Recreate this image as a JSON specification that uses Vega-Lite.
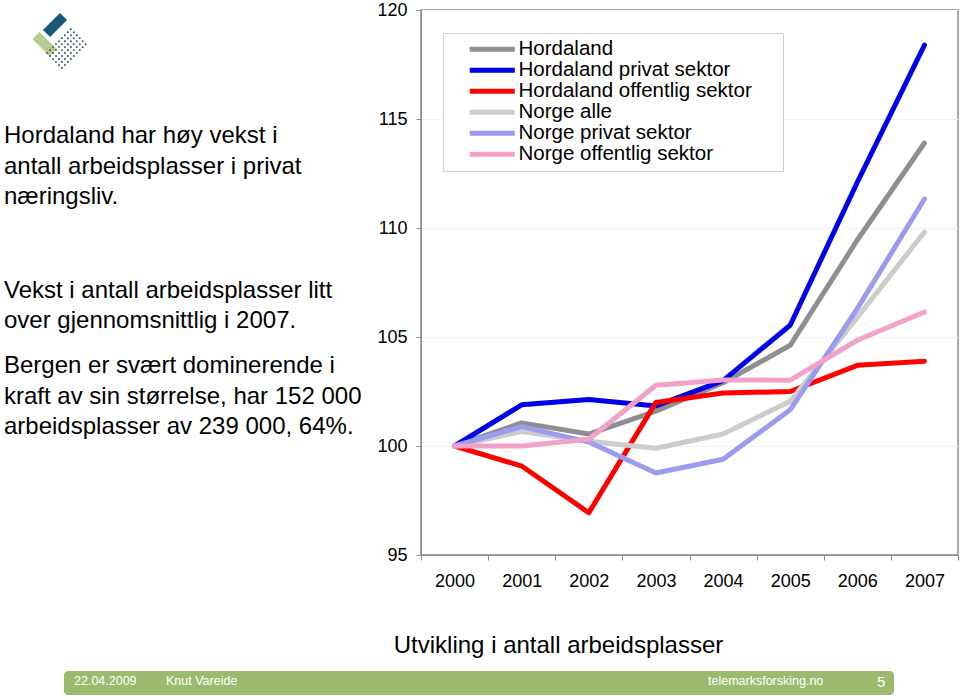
{
  "$schema": "https://vega.github.io/schema/vega-lite/v6.json",
  "padding": 0,
  "background": "white",
  "config": {"font": "Liberation Sans"},
  "spacing": 13,
  "vconcat": [
    {
      "spacing": 0,
      "hconcat": [
        {
          "width": 376,
          "height": 545,
          "view": {"stroke": null},
          "data": {
            "values": [
              {"kind": "text", "px": 4, "py": 133, "text": "Hordaland har høy vekst i"},
              {"kind": "text", "px": 4, "py": 163.5, "text": "antall arbeidsplasser i privat"},
              {"kind": "text", "px": 4, "py": 194, "text": "næringsliv."},
              {"kind": "text", "px": 4, "py": 288, "text": "Vekst i antall arbeidsplasser litt"},
              {"kind": "text", "px": 4, "py": 318, "text": "over gjennomsnittlig i 2007."},
              {"kind": "text", "px": 4, "py": 363, "text": "Bergen er svært dominerende i"},
              {"kind": "text", "px": 4, "py": 393.5, "text": "kraft av sin størrelse, har 152 000"},
              {"kind": "text", "px": 4, "py": 424, "text": "arbeidsplasser av 239 000, 64%."},
              {"kind": "teal", "px": 55, "py": 15, "text": ""},
              {"kind": "green", "px": 44.5, "py": 34, "text": ""},
              {"kind": "dots", "px": 67, "py": 38, "text": ""}
            ]
          },
          "encoding": {
            "x": {"field": "px", "type": "quantitative", "scale": {"domain": [0, 376], "nice": false, "zero": false}, "axis": null},
            "y": {"field": "py", "type": "quantitative", "scale": {"domain": [0, 545], "nice": false, "zero": false, "reverse": true}, "axis": null}
          },
          "layer": [
            {
              "transform": [{"filter": "datum.kind === 'text'"}],
              "mark": {"type": "text", "align": "left", "baseline": "alphabetic", "fontSize": 24, "color": "black"},
              "encoding": {"text": {"field": "text"}}
            },
            {
              "transform": [{"filter": "datum.kind === 'teal'"}],
              "mark": {"type": "point", "shape": "M-1,-0.42L1,-0.42L1,0.42L-1,0.42Z", "filled": true, "color": "#175A78", "opacity": 1, "size": 576, "angle": -45}
            },
            {
              "transform": [{"filter": "datum.kind === 'green'"}],
              "mark": {"type": "point", "shape": "M-1,-0.42L1,-0.42L1,0.42L-1,0.42Z", "filled": true, "color": "#B7CB92", "opacity": 1, "size": 576, "angle": 45}
            },
            {
              "transform": [{"filter": "datum.kind === 'dots'"}],
              "mark": {"type": "point", "shape": "M-1,-0.57L1,-0.57M-1,-0.34L1,-0.34M-1,-0.11L1,-0.11M-1,0.11L1,0.11M-1,0.34L1,0.34M-1,0.57L1,0.57", "filled": false, "stroke": "#34505F", "strokeWidth": 1.7, "strokeDash": [1.7, 2.5], "size": 1369, "angle": -45, "opacity": 1}
            }
          ]
        },
        {
          "width": 537,
          "height": 545,
          "view": {"stroke": "#8c8c8c", "strokeWidth": 1.5},
          "data": {
            "values": [
              {"series": "Hordaland", "year": "2000", "value": 100},
              {"series": "Hordaland", "year": "2001", "value": 101.06},
              {"series": "Hordaland", "year": "2002", "value": 100.55},
              {"series": "Hordaland", "year": "2003", "value": 101.6},
              {"series": "Hordaland", "year": "2004", "value": 102.9},
              {"series": "Hordaland", "year": "2005", "value": 104.62},
              {"series": "Hordaland", "year": "2006", "value": 109.45},
              {"series": "Hordaland", "year": "2007", "value": 113.9},
              {"series": "Hordaland privat sektor", "year": "2000", "value": 100},
              {"series": "Hordaland privat sektor", "year": "2001", "value": 101.89},
              {"series": "Hordaland privat sektor", "year": "2002", "value": 102.13},
              {"series": "Hordaland privat sektor", "year": "2003", "value": 101.84},
              {"series": "Hordaland privat sektor", "year": "2004", "value": 103.0},
              {"series": "Hordaland privat sektor", "year": "2005", "value": 105.54},
              {"series": "Hordaland privat sektor", "year": "2006", "value": 112.1},
              {"series": "Hordaland privat sektor", "year": "2007", "value": 118.39},
              {"series": "Hordaland offentlig sektor", "year": "2000", "value": 100},
              {"series": "Hordaland offentlig sektor", "year": "2001", "value": 99.08},
              {"series": "Hordaland offentlig sektor", "year": "2002", "value": 96.94},
              {"series": "Hordaland offentlig sektor", "year": "2003", "value": 102.0},
              {"series": "Hordaland offentlig sektor", "year": "2004", "value": 102.43},
              {"series": "Hordaland offentlig sektor", "year": "2005", "value": 102.5},
              {"series": "Hordaland offentlig sektor", "year": "2006", "value": 103.7},
              {"series": "Hordaland offentlig sektor", "year": "2007", "value": 103.89},
              {"series": "Norge alle", "year": "2000", "value": 100},
              {"series": "Norge alle", "year": "2001", "value": 100.66},
              {"series": "Norge alle", "year": "2002", "value": 100.22},
              {"series": "Norge alle", "year": "2003", "value": 99.9},
              {"series": "Norge alle", "year": "2004", "value": 100.55},
              {"series": "Norge alle", "year": "2005", "value": 102.05},
              {"series": "Norge alle", "year": "2006", "value": 105.9},
              {"series": "Norge alle", "year": "2007", "value": 109.82},
              {"series": "Norge privat sektor", "year": "2000", "value": 100},
              {"series": "Norge privat sektor", "year": "2001", "value": 100.89},
              {"series": "Norge privat sektor", "year": "2002", "value": 100.18},
              {"series": "Norge privat sektor", "year": "2003", "value": 98.76},
              {"series": "Norge privat sektor", "year": "2004", "value": 99.39},
              {"series": "Norge privat sektor", "year": "2005", "value": 101.66},
              {"series": "Norge privat sektor", "year": "2006", "value": 106.3},
              {"series": "Norge privat sektor", "year": "2007", "value": 111.33},
              {"series": "Norge offentlig sektor", "year": "2000", "value": 100},
              {"series": "Norge offentlig sektor", "year": "2001", "value": 100.0},
              {"series": "Norge offentlig sektor", "year": "2002", "value": 100.31},
              {"series": "Norge offentlig sektor", "year": "2003", "value": 102.79},
              {"series": "Norge offentlig sektor", "year": "2004", "value": 103.03},
              {"series": "Norge offentlig sektor", "year": "2005", "value": 103.02},
              {"series": "Norge offentlig sektor", "year": "2006", "value": 104.85},
              {"series": "Norge offentlig sektor", "year": "2007", "value": 106.15}
            ]
          },
          "mark": {"type": "line", "strokeCap": "round", "strokeJoin": "round"},
          "encoding": {
            "x": {
              "field": "year", "type": "ordinal",
              "scale": {"type": "band", "paddingInner": 0, "paddingOuter": 0},
              "bandPosition": 0.5,
              "axis": {
                "tickBand": "extent", "labelAngle": 0, "labelFontSize": 18, "labelColor": "black", "labelPadding": 12,
                "tickSize": 5, "tickColor": "#8c8c8c", "domainColor": "#8c8c8c", "grid": false,
                "title": "Utvikling i antall arbeidsplasser", "titleFontSize": 24, "titleFontWeight": "normal", "titleColor": "black",
                "titleX": 137, "titleY": 90, "titleAlign": "center", "titleBaseline": "middle"
              }
            },
            "y": {
              "field": "value", "type": "quantitative",
              "scale": {"domain": [95, 120], "nice": false, "zero": false},
              "axis": {
                "values": [95, 100, 105, 110, 115, 120], "labelFontSize": 18, "labelColor": "black", "labelPadding": 9,
                "tickSize": 5, "tickColor": "#8c8c8c", "domainColor": "#8c8c8c", "gridColor": "#f2f2f2",
                "title": null
              }
            },
            "color": {
              "field": "series", "type": "nominal",
              "scale": {
                "domain": ["Hordaland", "Hordaland privat sektor", "Hordaland offentlig sektor", "Norge alle", "Norge privat sektor", "Norge offentlig sektor"],
                "range": ["#8f8f8f", "#0000e8", "#ff0000", "#cccccc", "#9b9bef", "#f2a1c8"]
              },
              "legend": {
                "orient": "none", "legendX": 443, "legendY": 23,
                "title": ".", "titleOrient": "right", "titleColor": "white", "titleFontSize": 21, "titleFontWeight": "normal", "titlePadding": 19,
                "labelFontSize": 20.5, "labelColor": "black", "labelFontWeight": "normal", "padding": 6,
                "fillColor": "white", "strokeColor": "#cfcfcf",
                "symbolType": "M-4,0L4,0", "symbolSize": 127, "symbolOffset": 33, "labelOffset": 16,
                "rowPadding": 0, "labelLimit": 400
              }
            },
            "strokeWidth": {
              "field": "series", "type": "nominal",
              "scale": {
                "domain": ["Hordaland", "Hordaland privat sektor", "Hordaland offentlig sektor", "Norge alle", "Norge privat sektor", "Norge offentlig sektor"],
                "range": [5, 5, 5, 3, 3, 3]
              },
              "legend": null
            }
          }
        }
      ]
    },
    {
      "width": 960,
      "height": 24,
      "view": {"stroke": null},
      "layer": [
        {
          "data": {"values": [{"start": 64, "end": 894}]},
          "mark": {"type": "rect", "color": "#9bba6e", "cornerRadius": 4},
          "encoding": {
            "x": {"field": "start", "type": "quantitative", "scale": {"domain": [0, 960], "nice": false, "zero": false}, "axis": null},
            "x2": {"field": "end"}
          }
        },
        {
          "data": {"values": [{"label": "22.04.2009", "pos": 74}, {"label": "Knut Vareide", "pos": 166}, {"label": "telemarksforsking.no", "pos": 708}]},
          "mark": {"type": "text", "align": "left", "color": "white", "fontSize": 12.5, "dy": -2},
          "encoding": {
            "x": {"field": "pos", "type": "quantitative"},
            "text": {"field": "label"}
          }
        },
        {
          "data": {"values": [{"label": "5", "pos": 877}]},
          "mark": {"type": "text", "align": "left", "color": "white", "fontSize": 15, "dy": -1},
          "encoding": {
            "x": {"field": "pos", "type": "quantitative"},
            "text": {"field": "label"}
          }
        }
      ]
    }
  ]
}
